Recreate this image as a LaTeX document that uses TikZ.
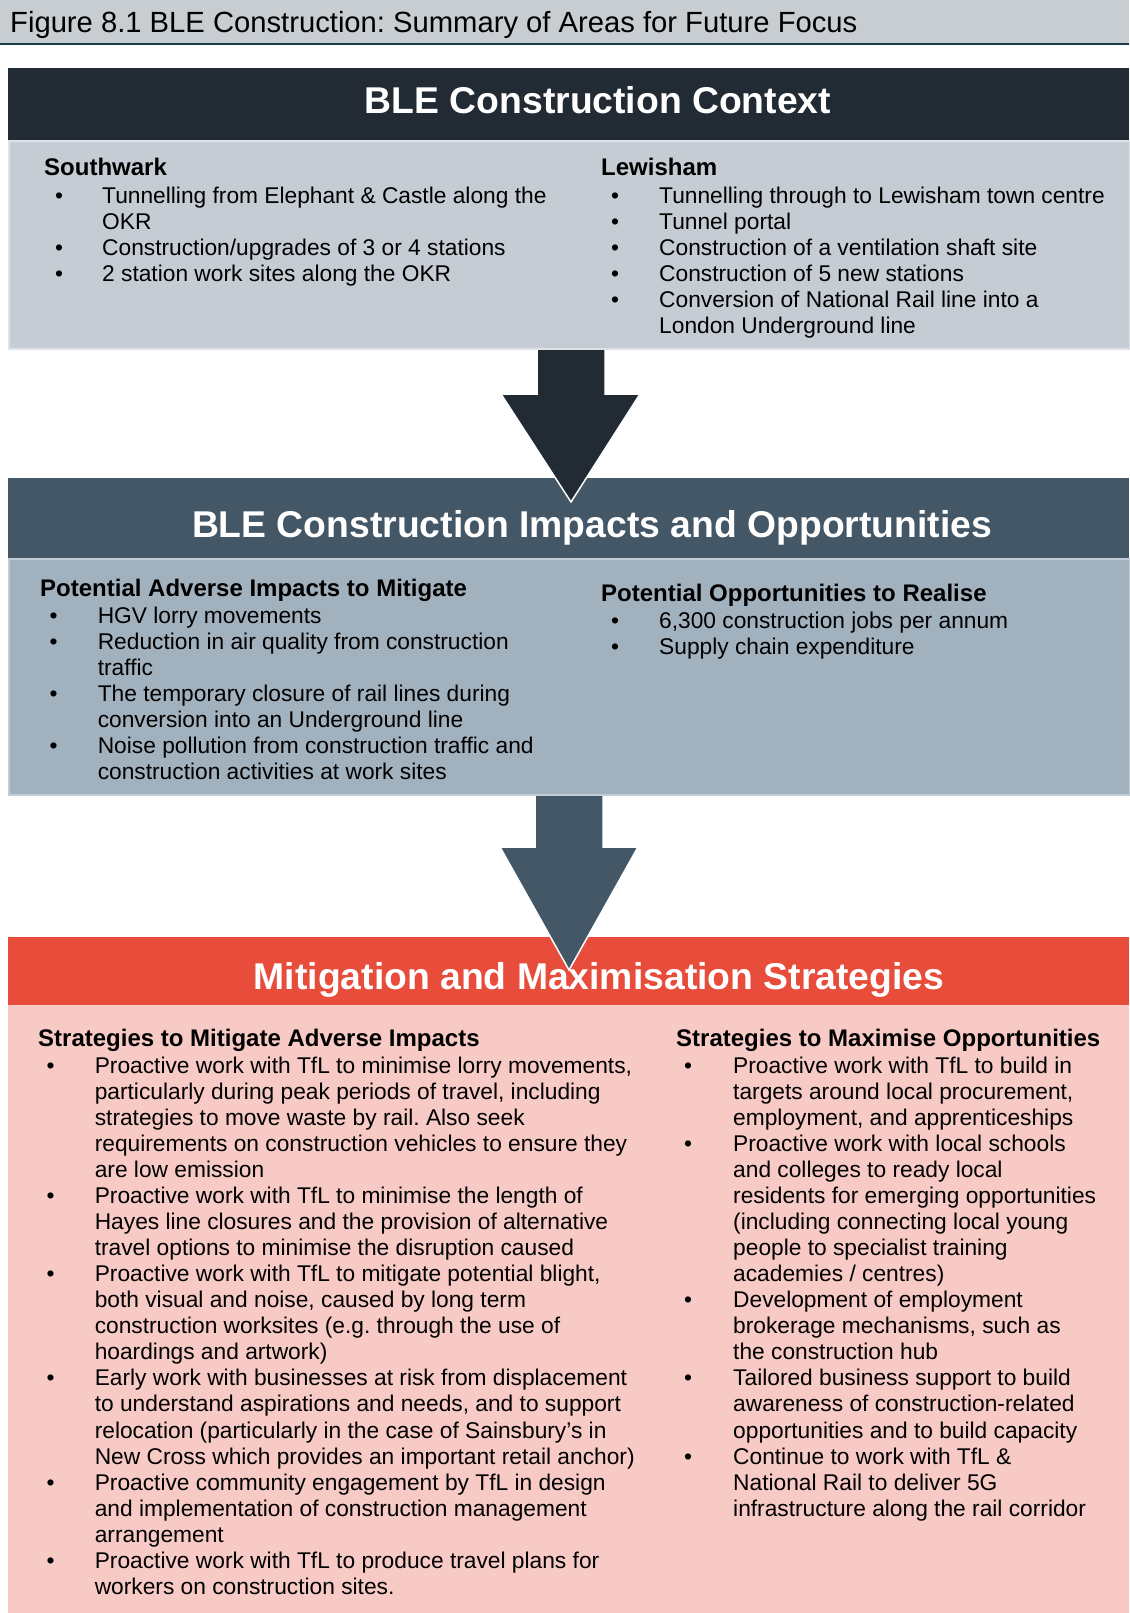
\documentclass[tikz,border=0pt]{standalone}
\usepackage{fontspec}
\setmainfont{Liberation Sans}
\frenchspacing
\definecolor{titlebg}{HTML}{C8CDD2}
\definecolor{titleline}{HTML}{1D3A4C}
\definecolor{hdA}{HTML}{222A33}
\definecolor{bdA}{HTML}{C5CCD3}
\definecolor{hdB}{HTML}{435766}
\definecolor{bdB}{HTML}{A2B1BE}
\definecolor{hdC}{HTML}{E84C3A}
\definecolor{bdC}{HTML}{F7CAC5}
\newlength\bulx \newlength\txtx
\newcommand\colhead[1]{\noindent{\fontsize{24}{26.07}\selectfont\bfseries #1}\par\vskip1pt}
\newcommand\bitem[1]{\hangindent=\txtx\hangafter=1\noindent\makebox[\txtx][l]{\hspace*{\bulx}\makebox[0pt]{\textbullet}}#1\par}
\newcommand\colbox[4]{\vtop{\hsize=#3\parindent=0pt\parskip=0pt\lineskiplimit=-100pt\frenchspacing\fontsize{22.75}{26.07}\selectfont\setlength\bulx{#1}\setlength\txtx{#2}#4}}
\tikzset{
  hdtext/.style={anchor=base, inner sep=0pt, text=white, font=\fontsize{37.3}{40}\selectfont\bfseries},
  col/.style={anchor=base west, inner sep=0pt},
  bodybox/.style={line width=2pt},
  blockarrow/.style={line width=1.5pt, draw=white}
}
\begin{document}
\begin{tikzpicture}[x=1pt,y=-1pt]
\useasboundingbox (0,0) rectangle (1129,1613);
% title bar
\fill[titlebg] (0,0) rectangle (1129,43);
\fill[titleline] (0,43) rectangle (1129,45.5);
\node[anchor=base west, inner sep=0pt, font=\fontsize{29.2}{31}\selectfont] (ttl) at (10,33) {Figure 8.1 BLE Construction: Summary of Areas for Future Focus};
% box 1
\fill[hdA] (8,68) rectangle (1129,140);
\filldraw[bodybox, fill=bdA, draw=bdA!55!white] (9,141) rectangle (1130,349);
\node[hdtext] (h1) at (598,114) {BLE Construction Context};
\node[col] (s1) at (44,176) {\colbox{15pt}{58pt}{540pt}{%
\colhead{Southwark}
\bitem{Tunnelling from Elephant \& Castle along the\\OKR}
\bitem{Construction/upgrades of 3 or 4 stations}
\bitem{2 station work sites along the OKR}}};
\node[col] (l1) at (601,176) {\colbox{14pt}{58pt}{520pt}{%
\colhead{Lewisham}
\bitem{Tunnelling through to Lewisham town centre}
\bitem{Tunnel portal}
\bitem{Construction of a ventilation shaft site}
\bitem{Construction of 5 new stations}
\bitem{Conversion of National Rail line into a\\London Underground line}}};
% box 2
\fill[hdB] (8,478) rectangle (1129,558);
\filldraw[bodybox, fill=bdB, draw=bdB!65!white] (9,559) rectangle (1130,795);
\node[hdtext] (h2) at (592,537) {BLE Construction Impacts and Opportunities};
% arrow 1
\fill[hdA] (537,350) -- (605,350) -- (605,394) -- (640,394) -- (571,502) -- (501,394) -- (537,394) -- cycle;
\draw[blockarrow] (605,350) -- (605,394) -- (640,394) -- (571,502) -- (501,394) -- (537,394) -- (537,350);
\node[col] (a2) at (40,596) {\colbox{13.5pt}{57.6pt}{540pt}{%
\colhead{Potential Adverse Impacts to Mitigate}
\bitem{HGV lorry movements}
\bitem{Reduction in air quality from construction\\traffic}
\bitem{The temporary closure of rail lines during\\conversion into an Underground line}
\bitem{Noise pollution from construction traffic and\\construction activities at work sites}}};
\node[col] (o2) at (601,601) {\colbox{14pt}{58pt}{520pt}{%
\colhead{Potential Opportunities to Realise}
\bitem{6,300 construction jobs per annum}
\bitem{Supply chain expenditure}}};
% box 3
\fill[hdC] (8,937) rectangle (1129,1005);
\fill[bdC] (8,1005) rectangle (1129,1613);
\node[hdtext] (h3) at (599,989) {Mitigation and Maximisation Strategies};
% arrow 2
\fill[hdB] (535,796) -- (603,796) -- (603,847) -- (638,847) -- (569,970) -- (500,847) -- (535,847) -- cycle;
\draw[blockarrow] (603,796) -- (603,847) -- (638,847) -- (569,970) -- (500,847) -- (535,847) -- (535,796);
\node[col] (m3) at (38,1046) {\colbox{12.4pt}{56.6pt}{600pt}{%
\colhead{Strategies to Mitigate Adverse Impacts}
\bitem{Proactive work with TfL to minimise lorry movements,\\particularly during peak periods of travel, including\\strategies to move waste by rail. Also seek\\requirements on construction vehicles to ensure they\\are low emission}
\bitem{Proactive work with TfL to minimise the length of\\Hayes line closures and the provision of alternative\\travel options to minimise the disruption caused}
\bitem{Proactive work with TfL to mitigate potential blight,\\both visual and noise, caused by long term\\construction worksites (e.g. through the use of\\hoardings and artwork)}
\bitem{Early work with businesses at risk from displacement\\to understand aspirations and needs, and to support\\relocation (particularly in the case of Sainsbury’s in\\New Cross which provides an important retail anchor)}
\bitem{Proactive community engagement by TfL in design\\and implementation of construction management\\arrangement}
\bitem{Proactive work with TfL to produce travel plans for\\workers on construction sites.}}};
\node[col] (x3) at (676,1046) {\colbox{12pt}{57pt}{450pt}{%
\colhead{Strategies to Maximise Opportunities}
\bitem{Proactive work with TfL to build in\\targets around local procurement,\\employment, and apprenticeships}
\bitem{Proactive work with local schools\\and colleges to ready local\\residents for emerging opportunities\\(including connecting local young\\people to specialist training\\academies / centres)}
\bitem{Development of employment\\brokerage mechanisms, such as\\the construction hub}
\bitem{Tailored business support to build\\awareness of construction-related\\opportunities and to build capacity}
\bitem{Continue to work with TfL \&\\National Rail to deliver 5G\\infrastructure along the rail corridor}}};
\end{tikzpicture}
\end{document}
